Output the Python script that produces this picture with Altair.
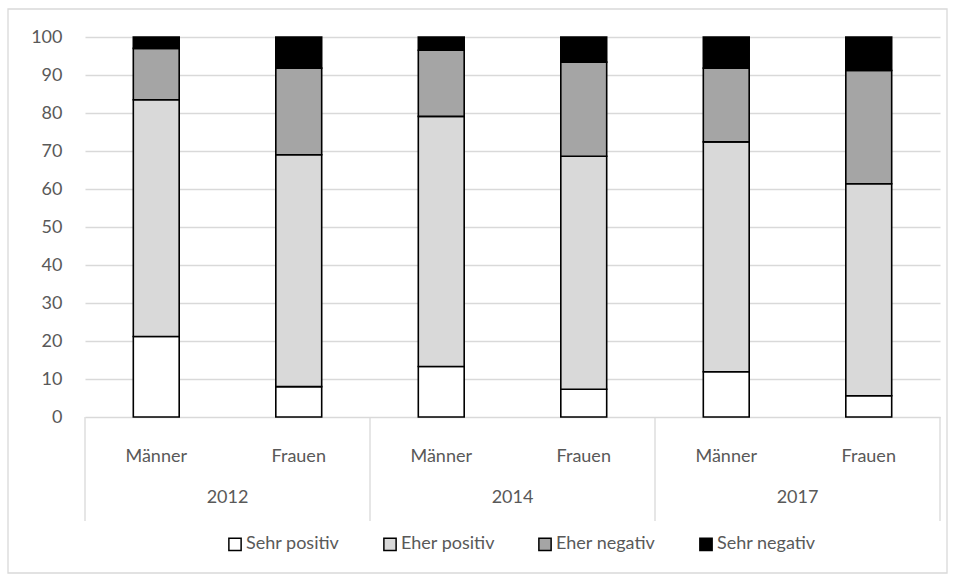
import altair as alt
import pandas as pd

# Survey shares (%) per year and gender
years = ["2012", "2014", "2017"]
genders = ["Männer", "Frauen"]
series = ["Sehr positiv", "Eher positiv", "Eher negativ", "Sehr negativ"]
colors = ["#ffffff", "#d9d9d9", "#a5a5a5", "#000000"]

sehr_positiv = [21.2, 8.0, 13.3, 7.3, 11.9, 5.6]
eher_positiv = [62.3, 61.0, 65.8, 61.3, 60.5, 55.8]
eher_negativ = [13.5, 22.8, 17.4, 24.8, 19.4, 29.8]
sehr_negativ = [3.0, 8.2, 3.5, 6.6, 8.2, 8.8]

values = [sehr_positiv, eher_positiv, eher_negativ, sehr_negativ]

FONT = "Lato"
TXT = "#595959"
GRID = "#d9d9d9"
HALF = 0.161  # half bar width in category units

rows = []
for i in range(len(years) * len(genders)):
    base = 0.0
    for s, name in enumerate(series):
        v = values[s][i]
        rows.append({"idx": i, "x0": i - HALF, "x1": i + HALF,
                     "series": name, "order": s,
                     "y0": base, "y1": base + v, "value": v})
        base += v
bars_df = pd.DataFrame(rows)

cat_df = pd.DataFrame({
    "idx": list(range(6)),
    "label": [g for _ in years for g in genders],
})
year_df = pd.DataFrame({"pos": [0.5, 2.5, 4.5], "label": years})
sep_df = pd.DataFrame({"pos": [-0.5, 1.5, 3.5, 5.5]})

W, H = 855, 380
xscale = alt.Scale(domain=[-0.5, 5.5], nice=False, zero=False)
yscale = alt.Scale(domain=[0, 100], nice=False)

bars = alt.Chart(bars_df).mark_rect(stroke="black", strokeWidth=1.6).encode(
    x=alt.X("x0:Q", scale=xscale, axis=None),
    x2="x1:Q",
    y=alt.Y("y0:Q", scale=yscale,
            axis=alt.Axis(values=list(range(0, 101, 10)), title=None,
                          domain=False, ticks=False, labelPadding=23,
                          grid=True, gridColor=GRID, gridWidth=1.3,
                          labelFont=FONT, labelFontSize=18,
                          labelColor=TXT)),
    y2="y1:Q",
    fill=alt.Fill("series:N",
                  scale=alt.Scale(domain=series, range=colors),
                  sort=series,
                  legend=alt.Legend(orient="none", direction="horizontal",
                                    legendX=141, legendY=498,
                                    title=None, symbolType="square",
                                    symbolSize=150,
                                    symbolStrokeColor="black",
                                    symbolStrokeWidth=1.5,
                                    labelFont=FONT, labelFontSize=18,
                                    labelColor=TXT, labelOffset=2,
                                    columnPadding=40)),
    order=alt.Order("order:Q"),
)

seps = alt.Chart(sep_df).mark_rule(color=GRID, strokeWidth=1.3).encode(
    x=alt.X("pos:Q", scale=xscale),
    y=alt.value(H),
    y2=alt.value(H + 104),
)

cats = alt.Chart(cat_df).mark_text(font=FONT, fontSize=18, color=TXT,
                                    baseline="middle").encode(
    x=alt.X("idx:Q", scale=xscale),
    y=alt.value(420),
    text="label:N",
)

yrs = alt.Chart(year_df).mark_text(font=FONT, fontSize=18, color=TXT,
                                    baseline="middle").encode(
    x=alt.X("pos:Q", scale=xscale),
    y=alt.value(461),
    text="label:N",
)

frame = alt.Chart(pd.DataFrame({"k": [0]})).mark_rect(
    fill=None, stroke=GRID, strokeWidth=1.3).encode(
    x=alt.value(-77), x2=alt.value(862),
    y=alt.value(-28), y2=alt.value(536),
)

chart = alt.layer(frame, bars, seps, cats, yrs).properties(
    width=W, height=H,
    padding={"left": 85, "top": 37, "right": 16, "bottom": 164},
    autosize=alt.AutoSizeParams(type="none"),
    background="white",
).configure_view(stroke=None)

chart.save("out.html", embed_options={"renderer": "svg", "actions": False})
